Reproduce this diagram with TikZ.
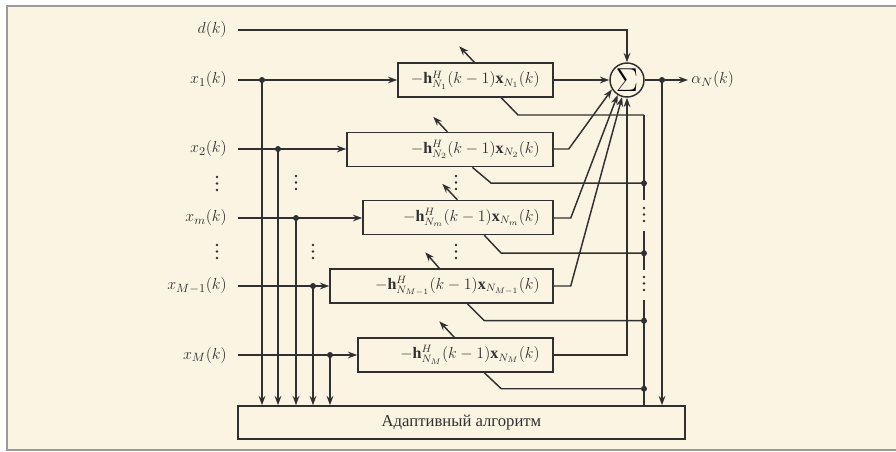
\documentclass[tikz,border=0pt]{standalone}
\usepackage{fontspec}
\setmainfont{Liberation Serif}
\usetikzlibrary{arrows.meta,calc}
\definecolor{bg}{HTML}{FCF4E3}
\definecolor{ln}{HTML}{303030}
\definecolor{fr}{HTML}{9A9A9A}
\begin{document}
\begin{tikzpicture}[x=0.75pt,y=-0.75pt,
  wire/.style={draw=ln, line width=1.1pt},
  arr/.style={wire, -{Stealth[length=7pt,width=5pt]}},
  blk/.style={draw=ln, line width=1.1pt, rectangle, inner sep=0pt, minimum height=34*0.75pt},
  lbl/.style={anchor=east, inner sep=0pt, text=ln, font=\fontsize{13}{15}\selectfont},
  btxt/.style={anchor=east, inner sep=0pt, text=ln, font=\fontsize{12}{14}\selectfont},
  jn/.style={circle, fill=ln, inner sep=0pt, minimum size=4.5pt},
  edot/.style={circle, fill=ln, inner sep=0pt, minimum size=2pt}]
\clip (0,0) rectangle (896,452);
\fill[white] (0,0) rectangle (896,452);
\draw[fr, line width=1.6pt, fill=bg] (7,6) rectangle (910,450);

% labels
\node[lbl] (ld) at (227,30) {$d(k)$};
\node[lbl] (l1) at (227,80) {$x_1(k)$};
\node[lbl] (l2) at (227,149) {$x_2(k)$};
\node[lbl] (lm) at (227,218) {$x_m(k)$};
\node[lbl] (lM1) at (227,286) {$x_{M-1}(k)$};
\node[lbl] (lM) at (227,355) {$x_M(k)$};

% filter boxes
\node[blk, minimum width=155*0.75pt] (b1) at (475.5,80) {};
\node[blk, minimum width=206*0.75pt] (b2) at (450,149.5) {};
\node[blk, minimum width=190*0.75pt] (bm) at (458,217.5) {};
\node[blk, minimum width=223*0.75pt] (bM1) at (441.5,286) {};
\node[blk, minimum width=195*0.75pt] (bM) at (455.5,355) {};
\node[btxt] (t1) at (540,80) {$-\mathbf{h}^{H}_{N_1}(k-1)\mathbf{x}_{N_1}(k)$};
\node[btxt] (t2) at (540,149.5) {$-\mathbf{h}^{H}_{N_2}(k-1)\mathbf{x}_{N_2}(k)$};
\node[btxt] (tm) at (540,217.5) {$-\mathbf{h}^{H}_{N_m}(k-1)\mathbf{x}_{N_m}(k)$};
\node[btxt] (tM1) at (540,286) {$-\mathbf{h}^{H}_{N_{M-1}}(k-1)\mathbf{x}_{N_{M-1}}(k)$};
\node[btxt] (tM) at (540,355) {$-\mathbf{h}^{H}_{N_M}(k-1)\mathbf{x}_{N_M}(k)$};

% summer
\node[circle, draw=ln, line width=1.1pt, minimum size=34*0.75pt, inner sep=0pt,
      font=\fontsize{23}{23}\selectfont] (sig) at (627,80) {$\Sigma$};

% adaptive algorithm
\node[blk, minimum width=447*0.75pt, minimum height=33*0.75pt,
      font=\fontsize{12.5}{14}\selectfont, text=ln] (alg) at (461.5,422.5) {Адаптивный алгоритм};

% input start points
\coordinate (sd) at (238,30);
\coordinate (s1) at (238,80);
\coordinate (s2) at (238,149);
\coordinate (sm) at (238,218);
\coordinate (sM1) at (238,286);
\coordinate (sM) at (238,355);

\draw[arr] (sd) -- (sd -| sig.north) -- (sig.north);
\draw[arr] (s1) -- (b1.west);
\draw[arr] (s2) -- (s2 -| b2.west);
\draw[arr] (sm) -- (sm -| bm.west);
\draw[arr] (sM1) -- (sM1 -| bM1.west);
\draw[arr] (sM) -- (sM -| bM.west);

% branches to algorithm
\node[jn] (j1) at (262,80) {};
\node[jn] (j2) at (278,149) {};
\node[jn] (jm) at (296,218) {};
\node[jn] (jM1) at (313,286) {};
\node[jn] (jM) at (330,355) {};
\foreach \j in {j1,j2,jm,jM1,jM}
  \draw[arr] (\j.center) -- (\j.center |- alg.north);

% outputs to summer
\draw[arr] (b1.east) -- (sig.west);
\draw[arr] (b2.east |- s2) -- ++(15,0) -- (sig.212);
\draw[arr] (bm.east |- sm) -- ++(17,0) -- (sig.238);
\draw[arr] (bM1.east |- sM1) -- ++(17,0) -- (sig.254);
\draw[arr] (bM.east |- sM) -- (sM -| sig.south) -- (sig.south);

% output
\coordinate (out) at (688,80);
\draw[arr] (sig.east) -- (out);
\node[anchor=west, inner sep=0pt, text=ln, font=\fontsize{13}{15}\selectfont] (la) at (691,80) {$\alpha_N(k)$};
\node[jn] (jo) at (662,80) {};
\draw[arr] (jo.center) -- (jo.center |- alg.north);

% feedback bus
\coordinate (bus) at (644,115);
\draw[wire] ($(b1.south west)+(104,0)$) -- (518,115) -- (bus);
\draw[wire] (bus) -- (644,200);
\draw[wire] (644,231) -- (644,270);
\draw[wire] (644,300) -- (bus |- alg.north);
\draw[wire] ($(b2.south west)+(126,0)$) -- ++(19,16) coordinate (f2) -- (f2 -| bus) node[jn] (k2) {};
\draw[wire] ($(bm.south west)+(122,0)$) -- ++(17,18) coordinate (fm) -- (fm -| bus) node[jn] (km) {};
\draw[wire] ($(bM1.south west)+(138,0)$) -- ++(17,17) coordinate (fM1) -- (fM1 -| bus) node[jn] (kM1) {};
\draw[wire] ($(bM.south west)+(127,0)$) -- ++(17,16) coordinate (fM) -- (fM -| bus) node[jn] (kM) {};

% adaptation arrows
\draw[arr] ($(b1.north west)+(77,0)$) -- ++(-15,-16);
\draw[arr] ($(b2.north west)+(101,0)$) -- ++(-14,-15);
\draw[arr] ($(bm.north west)+(95,0)$) -- ++(-15,-16);
\draw[arr] ($(bM1.north west)+(110,0)$) -- ++(-14,-16);
\draw[arr] ($(bM.north west)+(97,0)$) -- ++(-15,-16);

% ellipsis dots
\foreach \x/\ya in {217/177, 217/245, 296/176, 313/245, 456/176, 456/245, 644/208, 644/277}
  \foreach \k in {0,1,2}
    \fill[ln] (\x,\ya+\k*6.5) circle (1.1pt);
\end{tikzpicture}
\end{document}
